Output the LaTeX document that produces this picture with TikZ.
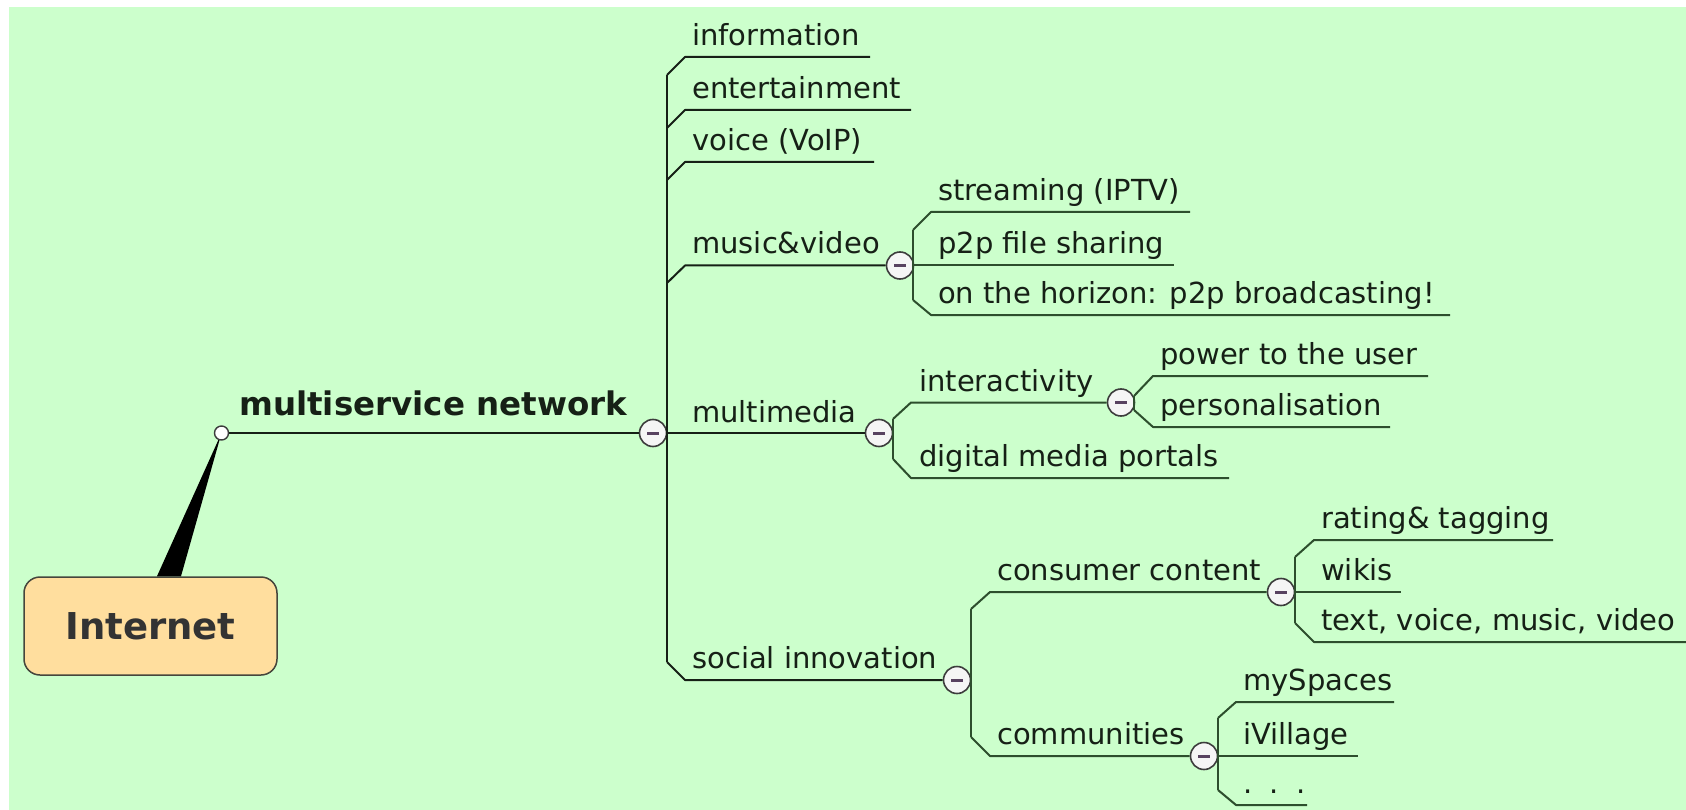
\documentclass[tikz,border=0pt]{standalone}
\usepackage{fontspec}
\setmainfont{DejaVu Sans}
\usetikzlibrary{shapes.geometric}
\definecolor{bg}{RGB}{204,255,204}
\definecolor{ink}{RGB}{22,32,22}
\definecolor{twig}{RGB}{45,78,45}
\definecolor{boxfill}{RGB}{255,222,158}
\definecolor{boxline}{RGB}{70,70,60}
\definecolor{knob}{RGB}{88,66,96}
\definecolor{rimgray}{RGB}{60,60,60}

\begin{document}
\begin{tikzpicture}[x=1pt,y=-1pt,
  topic/.style={anchor=base west, inner sep=0pt, text=ink,
    font=\fontsize{29}{34}\selectfont},
  maintopic/.style={anchor=base west, inner sep=0pt, text=ink,
    font=\fontsize{32.5}{38}\selectfont\bfseries},
  limb/.style={line width=2pt, draw=ink, line join=round},
  twigline/.style={line width=2pt, draw=twig, line join=round},
  toggle/.style={circle, draw=rimgray, fill=white!96!black, line width=1.6pt,
    minimum size=27pt, inner sep=0pt,
    path picture={\draw[knob, line width=3pt]
      ([xshift=-6pt]path picture bounding box.center) --
      ([xshift=6pt]path picture bounding box.center);}},
  hubdot/.style={circle, draw=rimgray, fill=white, line width=1.4pt,
    minimum size=14pt, inner sep=0pt},
  rootbox/.style={rectangle, rounded corners=16pt, draw=boxline,
    fill=boxfill, line width=1.5pt, minimum width=253pt,
    minimum height=98pt, text=black!80,
    font=\fontsize{37}{42}\selectfont\bfseries},
]
\useasboundingbox (0,0) rectangle (1686,810);
\fill[white] (0,0) rectangle (1686,810);
\fill[bg] (9,7) rectangle (1686,810);

% central topic with its callout wedge
\coordinate (hubpt) at (221.5,433);
\node[rootbox] (root) at (150.5,626) {Internet};
\fill[black] (hubpt) -- ([xshift=6.5pt]root.north) -- ([xshift=30.5pt]root.north) -- cycle;
\node[hubdot] (hub) at (hubpt) {};

% main topic
\node[toggle] (t0) at (653,433) {};
\draw[limb] (hub) -- (t0);
\node[maintopic] (ms) at (239,415) {multiservice network};

% first level
\coordinate (s0top) at (667,75);
\coordinate (s0bot) at (667,662);
\draw[limb] (s0top) -- (s0bot);
\draw[limb] (s0top) -- (685,57) -- (870,57);
\draw[limb] (667,128) -- (685,110) -- (911,110);
\draw[limb] (667,180) -- (685,162) -- (874,162);
\node[toggle] (t1) at (900,265.5) {};
\draw[limb] (667,283) -- (685,265.5) -- (t1);
\node[toggle] (t2) at (879,433) {};
\draw[limb] (t0) -- (t2);
\node[toggle] (t3) at (957,680) {};
\draw[limb] (s0bot) -- (685,680) -- (t3);

\node[topic] (info) at (692,46) {information};
\node[topic] (ent) at (692,98.5) {entertainment};
\node[topic] (voip) at (692,150.5) {voice (VoIP)};
\node[topic] (mv) at (692,254) {music\&video};
\node[topic] (mm) at (692,422) {multimedia};
\node[topic] (soc) at (692,668.5) {social innovation};

% music & video
\draw[twigline] (913,230) -- (913,300);
\draw[twigline] (913,230) -- (931,212) -- (1190,212);
\draw[twigline] (t1) -- (1174,265.5);
\draw[twigline] (913,300) -- (931,315) -- (1450,315);
\node[topic] (iptv) at (938,200.5) {streaming (IPTV)};
\node[topic] (p2p) at (938,254) {p2p file sharing};
\node[topic] (hor) at (938,303.5) {on the horizon: p2p broadcasting!};

% multimedia
\node[toggle] (t4) at (1121,402.5) {};
\draw[twigline] (893,419) -- (893,459);
\draw[twigline] (893,419) -- (911,402.5) -- (t4);
\draw[twigline] (893,459) -- (911,478) -- (1229,478);
\node[topic] (inter) at (919,391) {interactivity};
\node[topic] (dmp) at (919,466.5) {digital media portals};

\draw[twigline] (1134,396) -- (1134,410);
\draw[twigline] (1134,396) -- (1153,376) -- (1428,376);
\draw[twigline] (1134,410) -- (1153,427) -- (1390,427);
\node[topic] (pow) at (1160,364.5) {power to the user};
\node[topic] (pers) at (1160,415.5) {personalisation};

% social innovation
\node[toggle] (t5) at (1281,592) {};
\node[toggle] (t6) at (1204,756) {};
\draw[twigline] (971,609) -- (971,737);
\draw[twigline] (971,609) -- (990,592) -- (t5);
\draw[twigline] (971,737) -- (990,756) -- (t6);
\node[topic] (cc) at (997,580.5) {consumer content};
\node[topic] (com) at (997,744.5) {communities};

\draw[twigline] (1295,557) -- (1295,623);
\draw[twigline] (1295,557) -- (1314,540) -- (1553,540);
\draw[twigline] (t5) -- (1401,592);
\draw[twigline] (1295,623) -- (1314,642) -- (1686,642);
\node[topic] (rate) at (1321,528.5) {rating\& tagging};
\node[topic] (wiki) at (1321,580.5) {wikis};
\node[topic] (tvmv) at (1321,630.5) {text, voice, music, video};

\draw[twigline] (1218,718) -- (1218,790);
\draw[twigline] (1218,718) -- (1236,702) -- (1394,702);
\draw[twigline] (t6) -- (1358,756);
\draw[twigline] (1218,790) -- (1236,805) -- (1307,805);
\node[topic] (mysp) at (1243,690.5) {mySpaces};
\node[topic] (ivil) at (1243,744.5) {iVillage};
\node[topic] (more) at (1243,793.5) {.\hspace{0.6em}.\hspace{0.6em}.};
\end{tikzpicture}
\end{document}
